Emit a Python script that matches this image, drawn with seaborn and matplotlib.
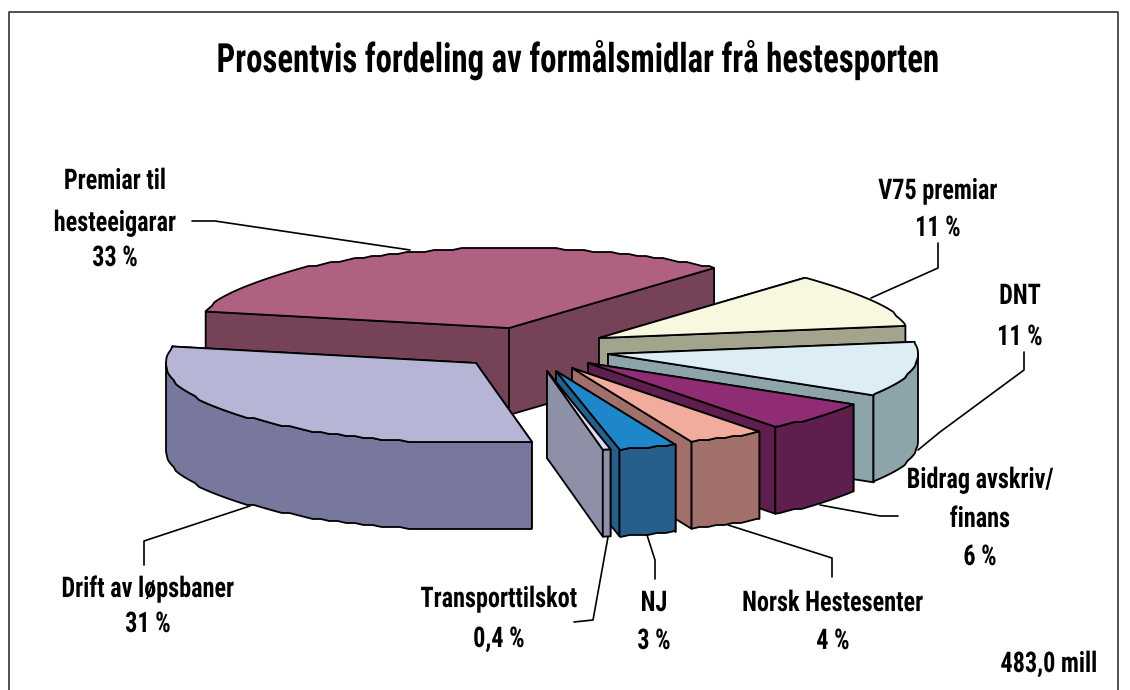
import numpy as np
import matplotlib.pyplot as plt
from matplotlib import font_manager, patheffects
from matplotlib.patches import Polygon
from matplotlib.transforms import Affine2D
import seaborn as sns

# values, clockwise from the left edge of "Premiar"
labels = [["Premiar til", "hesteeigarar", "33 %"], ["V75 premiar", "11 %"], ["DNT", "11 %"],
          ["Bidrag avskriv/", "finans", "6 %"], ["Norsk Hestesenter", "4 %"], ["NJ", "3 %"],
          ["Transporttilskot", "0,4 %"], ["Drift av løpsbaner", "31 %"]]
shares = [33, 11, 11, 6, 4, 3, 0.4, 31]
title = "Prosentvis fordeling av formålsmidlar frå hestesporten"
total_note = "483,0 mill"

# styling
top_colors = ["#B06080", "#F8F7E0", "#DCEDF6", "#8F2C74", "#F2AC9E", "#1E87CC", "#DCDCF0", "#B7B5D6"]
side_colors = ["#764258", "#A2A48E", "#8CA4AA", "#5E1F4E", "#A2706A", "#265F8C", "#8E90A8", "#78779E"]
# how far each slice is pulled out of the pie, in pixels
pull = [(-26, -23), (64, -13), (73, 3), (53, 12), (37, 17), (21, 20), (12, 20), (-59, 12)]
label_x = [115, 938, 1020, 980, 833, 654, 499, 148]
label_base = [[189, 231, 266], [199, 236], [304, 345], [488, 527, 565], [611, 649], [611, 649], [607, 647], [597, 632]]
leaders = [[(192, 221), (215, 221), (410, 250)],
           [(938, 243), (938, 268), (871, 298)],
           [(1024, 352), (1024, 370), (940, 432), (918, 450)],
           [(820, 505), (880, 516), (898, 516)],
           [(728, 525), (832, 558), (832, 577)],
           [(647, 535), (655, 560), (655, 579)],
           [(608, 537), (593, 620), (574, 622)],
           [(250, 506), (144, 541), (144, 565)]]

CX, CY = 535, 351
RX, RY = 310, 80
DEPTH = 87
START = -78.1
STEP = 1.75  # degrees between rim points

sns.set_theme(style="white")
names = {f.name for f in font_manager.fontManager.ttflist}
narrow = [n for n in ["Roboto Condensed", "Liberation Sans Narrow"] if n in names]
plt.rcParams["font.family"] = narrow + ["Roboto", "DejaVu Sans"]


class Squeeze(patheffects.AbstractPathEffect):
    # narrows the glyphs around x=cx, the font in the picture is more condensed
    def __init__(self, cx, sx):
        super().__init__()
        self.tr = Affine2D().translate(-cx, 0).scale(sx, 1).translate(cx, 0)

    def draw_path(self, renderer, gc, tpath, affine, rgbFace=None):
        renderer.draw_path(gc, tpath, affine + self.tr, rgbFace)


def rim(a0, a1, ox, oy):
    # fixed angle grid so top and wall share their points, snapped for the bumpy edge
    inner = np.arange(np.ceil(a0 / STEP), np.ceil(a1 / STEP)) * STEP
    inner = inner[(inner > a0) & (inner < a1)]
    t = np.radians(np.r_[a0, inner, a1])
    x = ox + RX * np.sin(t)
    y = oy - RY * np.cos(t)
    y[1:-1] = np.round(y[1:-1] / 2) * 2
    return np.column_stack([x, y])


def face(ax, pts, color, z):
    ax.add_patch(Polygon(pts, closed=True, facecolor=color, edgecolor="black", lw=1.3, joinstyle="round", zorder=z))


fig, ax = plt.subplots(figsize=(11.3, 6.9), dpi=100)
ax.set_position([0, 0, 1, 1])
ax.set_xlim(0, 1130)
ax.set_ylim(690, 0)
ax.axis("off")

ax.plot([9, 9, 1118, 1118], [690, 12, 12, 690], color="#333333", lw=1.2)

ends = START + np.cumsum(shares) / np.sum(shares) * 360
begins = np.r_[START, ends[:-1]]

for i, (a0, a1) in enumerate(zip(begins, ends)):
    ox, oy = CX + pull[i][0], CY + pull[i][1]
    z = 2 + i
    drop = np.array([0, DEPTH])
    arc = rim(a0, a1, ox, oy)
    apex = np.array([ox, oy])
    # cut faces
    for end_pt in (arc[0], arc[-1]):
        face(ax, [apex, end_pt, end_pt + drop, apex + drop], side_colors[i], z)
    # outer wall, only the part turned towards the viewer
    w0, w1 = max(a0, 90), min(a1, 270)
    if w1 > w0:
        wall = rim(w0, w1, ox, oy)
        face(ax, np.vstack([wall, wall[::-1] + drop]), side_colors[i], z)
    face(ax, np.vstack([apex, arc]), top_colors[i], z)

for pts in leaders:
    xs, ys = zip(*pts)
    ax.plot(xs, ys, color="black", lw=1.2, zorder=1)


def put(x, y, s, size, sx):
    t = ax.text(x, y, s, fontsize=size, ha="center", va="baseline", weight="bold", color="black", zorder=20)
    t.set_path_effects([Squeeze(x, sx)])


put(577, 72, title, 29, 0.815)
for lines, x, bases in zip(labels, label_x, label_base):
    for s, y in zip(lines, bases):
        put(x, y, s, 20.5, 0.85)
put(1049, 672, total_note, 20.5, 0.85)

fig.savefig("out.png", dpi=100)
